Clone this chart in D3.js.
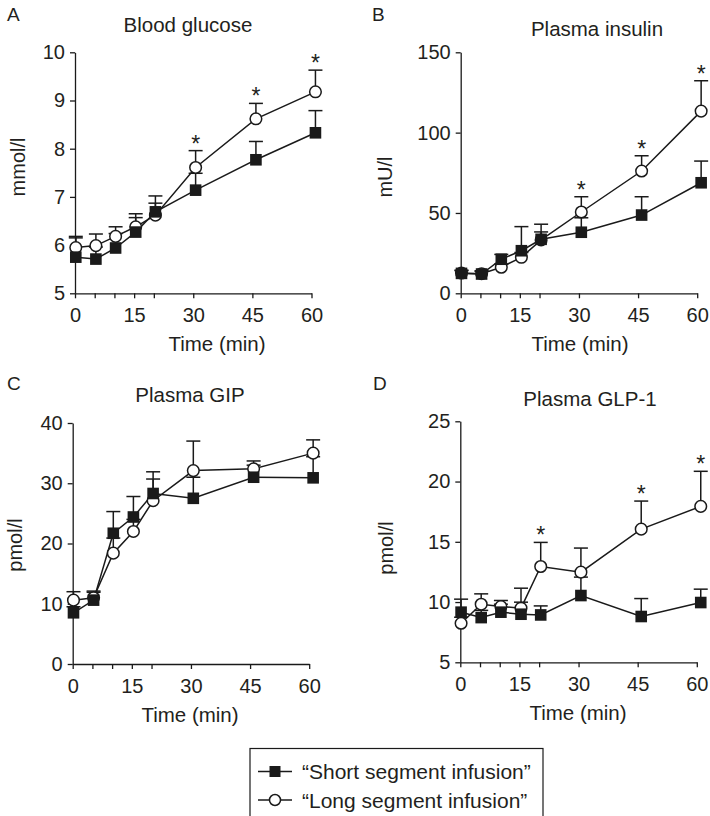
<!DOCTYPE html>
<html>
<head>
<meta charset="utf-8">
<script src="https://cdn.jsdelivr.net/npm/d3@7"></script>
<style>
  body { margin: 0; background: #fff; }
  text { font-family: "Liberation Sans", Arial, Helvetica, sans-serif; fill: #231f20; }
</style>
</head>
<body>
<div id="chart-area"></div>
<script>
// DATA
const times = [0.2, 5.3, 10.3, 15.4, 20.4, 30.6, 45.9, 61];
const xTicks = [0, 5, 10, 15, 20, 30, 45, 60];
const xLabels = [0, 15, 30, 45, 60];

const glucoseShort = [5.75, 5.71, 5.94, 6.27, 6.69, 7.14, 7.77, 8.33];
const glucoseShortErr = [0.4, 0.25, 0.3, 0.3, 0.33, 0.35, 0.38, 0.46];
const glucoseLong = [5.95, 5.99, 6.18, 6.38, 6.62, 7.61, 8.62, 9.18];
const glucoseLongErr = [0.23, 0.24, 0.2, 0.27, 0.25, 0.35, 0.32, 0.45];
const glucoseStars = [30, 45, 60];

const insulinShort = [12.4, 12.0, 21.2, 26.5, 33.6, 38.0, 48.7, 68.8];
const insulinShortErr = [2, 2, 3, 15, 9.4, 9, 11.4, 13.5];
const insulinLong = [12.6, 12.2, 16.2, 22.4, 33.2, 50.6, 76.1, 113.4];
const insulinLongErr = [1.5, 1.5, 2, 3, 5, 9.5, 9.5, 18.9];
const insulinStars = [30, 45, 60];

const gipShort = [8.5, 10.6, 21.7, 24.4, 28.3, 27.5, 31.0, 30.9];
const gipShortErr = [1.0, 1.5, 3.6, 3.4, 3.6, 3.5, 2.0, 3.5];
const gipLong = [10.6, 11.0, 18.4, 22.0, 27.1, 32.1, 32.4, 35.0];
const gipLongErr = [1.4, 0.9, 2.5, 2.0, 3.6, 4.9, 1.3, 2.2];
const gipStars = [];

const glpShort = [9.16, 8.71, 9.16, 8.99, 8.93, 10.54, 8.8, 9.96];
const glpShortErr = [1.08, 0.6, 0.66, 1.0, 0.75, 1.53, 1.49, 1.11];
const glpLong = [8.24, 9.82, 9.63, 9.49, 12.95, 12.48, 16.05, 17.94];
const glpLongErr = [0.5, 0.86, 0.5, 1.66, 2.0, 2.0, 2.33, 2.91];
const glpStars = [20, 45, 60];

const legendLabels = ["\u201cShort segment infusion\u201d", "\u201cLong segment infusion\u201d"];

// LAYOUT
let width = 710,
  height = 816,
  plotW = 236.5,
  plotH = 241,
  ink = "#1a1a1a";

let panels = [
  { letter: "A", title: "Blood glucose", unit: "mmol/l", left: 75, bottom: 293.3,
    yDomain: [5, 10], yTicks: [5, 6, 7, 8, 9, 10],
    short: glucoseShort, shortErr: glucoseShortErr, long: glucoseLong, longErr: glucoseLongErr, stars: glucoseStars,
    letterX: 7, letterY: 21, titleX: 188, titleY: 32, unitX: 25, unitY: 167, timeX: 217 },
  { letter: "B", title: "Plasma insulin", unit: "mU/l", left: 460.7, bottom: 293.3,
    yDomain: [0, 150], yTicks: [0, 50, 100, 150],
    short: insulinShort, shortErr: insulinShortErr, long: insulinLong, longErr: insulinLongErr, stars: insulinStars,
    letterX: 372, letterY: 21, titleX: 597, titleY: 36, unitX: 392, unitY: 177, timeX: 580 },
  { letter: "C", title: "Plasma GIP", unit: "pmol/l", left: 72.7, bottom: 664,
    yDomain: [0, 40], yTicks: [0, 10, 20, 30, 40],
    short: gipShort, shortErr: gipShortErr, long: gipLong, longErr: gipLongErr, stars: gipStars,
    letterX: 7, letterY: 390, titleX: 190, titleY: 402, unitX: 22, unitY: 545, timeX: 190 },
  { letter: "D", title: "Plasma GLP-1", unit: "pmol/l", left: 460.3, bottom: 662.3,
    yDomain: [5, 25], yTicks: [5, 10, 15, 20, 25],
    short: glpShort, shortErr: glpShortErr, long: glpLong, longErr: glpLongErr, stars: glpStars,
    letterX: 373, letterY: 390, titleX: 590, titleY: 406, unitX: 393, unitY: 548, timeX: 578 }
];

let svg = d3
  .select("#chart-area")
  .append("svg")
  .attr("width", width)
  .attr("height", height);

panels.forEach(drawPanel);
drawLegend();

function drawPanel(p) {
  let g = svg.append("g");

  let x = d3.scaleLinear().domain([0, 60]).range([p.left, p.left + plotW]);
  let y = d3.scaleLinear().domain(p.yDomain).range([p.bottom, p.bottom - plotH]);

  // AXIS
  let xAxis = d3
    .axisBottom(x)
    .tickValues(xTicks)
    .tickSizeInner(5)
    .tickSizeOuter(0)
    .tickPadding(9.5)
    .tickFormat(function(d) {
      return xLabels.includes(d) ? d : "";
    });
  let yAxis = d3
    .axisLeft(y)
    .tickValues(p.yTicks)
    .tickSizeInner(5)
    .tickSizeOuter(0)
    .tickPadding(5)
    .tickFormat(d3.format("d"));

  let xg = g.append("g").attr("transform", "translate(0," + p.bottom + ")").call(xAxis);
  let yg = g.append("g").attr("transform", "translate(" + p.left + ",0)").call(yAxis);
  [xg, yg].forEach(function(a) {
    a.attr("font-size", 20).attr("font-family", null);
    a.selectAll("path, line").attr("stroke", ink).attr("stroke-width", 1.3);
  });

  // error bars (upper only)
  let bars = [];
  p.long.forEach(function(v, i) { bars.push({ t: times[i], v: v, e: p.longErr[i] }); });
  p.short.forEach(function(v, i) { bars.push({ t: times[i], v: v, e: p.shortErr[i] }); });

  let eb = g.selectAll(".err").data(bars).enter().append("g").attr("class", "err");
  eb.append("line")
    .attr("x1", d => x(d.t)).attr("x2", d => x(d.t))
    .attr("y1", d => y(d.v)).attr("y2", d => y(d.v + d.e))
    .attr("stroke", ink).attr("stroke-width", 1.5);
  eb.append("line")
    .attr("x1", d => x(d.t) - 7).attr("x2", d => x(d.t) + 7)
    .attr("y1", d => y(d.v + d.e)).attr("y2", d => y(d.v + d.e))
    .attr("stroke", ink).attr("stroke-width", 1.5);

  // lines
  let line = d3.line().x((d, i) => x(times[i])).y(d => y(d));
  [p.long, p.short].forEach(function(s) {
    g.append("path").datum(s).attr("d", line)
      .attr("fill", "none").attr("stroke", ink).attr("stroke-width", 1.5);
  });

  // markers
  g.selectAll(".open").data(p.long).enter().append("circle")
    .attr("class", "open")
    .attr("cx", (d, i) => x(times[i])).attr("cy", d => y(d))
    .attr("r", 5.8).attr("fill", "#fff").attr("stroke", ink).attr("stroke-width", 1.5);
  g.selectAll(".filled").data(p.short).enter().append("rect")
    .attr("class", "filled")
    .attr("x", (d, i) => x(times[i]) - 5.8).attr("y", d => y(d) - 5.8)
    .attr("width", 11.6).attr("height", 11.6).attr("fill", ink);

  // significance stars, just above the open-circle error bar
  g.selectAll(".star").data(p.stars).enter().append("text")
    .attr("class", "star")
    .attr("x", function(d) { return x(times[xTicks.indexOf(d)]); })
    .attr("y", function(d) {
      let i = xTicks.indexOf(d);
      return y(p.long[i] + p.longErr[i]) + 1;
    })
    .attr("text-anchor", "middle")
    .attr("font-size", 23)
    .text("*");

  // labels
  g.append("text").attr("x", p.letterX).attr("y", p.letterY).attr("font-size", 19).text(p.letter);
  g.append("text").attr("x", p.titleX).attr("y", p.titleY).attr("font-size", 20.5)
    .style("text-anchor", "middle").text(p.title);
  g.append("text").attr("transform", "translate(" + p.unitX + "," + p.unitY + ") rotate(-90)")
    .attr("font-size", 20).style("text-anchor", "middle").text(p.unit);
  g.append("text").attr("x", p.timeX).attr("y", p.bottom + 57.5).attr("font-size", 20.5)
    .style("text-anchor", "middle").text("Time (min)");
}

function drawLegend() {
  let lg = svg.append("g");
  lg.append("rect")
    .attr("x", 250).attr("y", 748.5).attr("width", 293).attr("height", 100)
    .attr("fill", "none").attr("stroke", ink).attr("stroke-width", 1.2);

  let rows = lg.selectAll(".row").data(legendLabels).enter().append("g")
    .attr("class", "row")
    .attr("transform", (d, i) => "translate(0," + (771.5 + i * 28.5) + ")");
  rows.append("line").attr("x1", 258).attr("x2", 292).attr("y1", 0).attr("y2", 0)
    .attr("stroke", ink).attr("stroke-width", 1.5);
  rows.filter((d, i) => i === 0).append("rect")
    .attr("x", 269.5).attr("y", -5.5).attr("width", 11).attr("height", 11).attr("fill", ink);
  rows.filter((d, i) => i === 1).append("circle")
    .attr("cx", 275).attr("cy", 0).attr("r", 5.5)
    .attr("fill", "#fff").attr("stroke", ink).attr("stroke-width", 1.5);
  rows.append("text").attr("x", 302).attr("y", 7.5).attr("font-size", 21).text(d => d);
}
</script>
</body>
</html>
